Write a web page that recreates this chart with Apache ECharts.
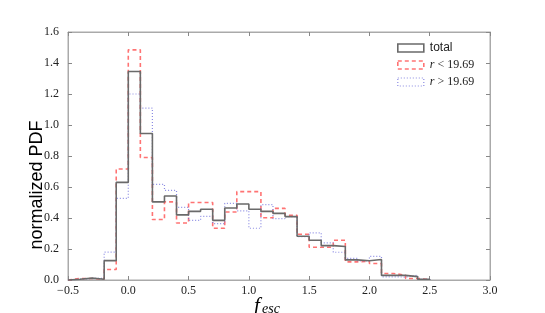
<!DOCTYPE html>
<html><head><meta charset="utf-8">
<script src="https://cdn.jsdelivr.net/npm/echarts@6/dist/echarts.min.js"></script>
<style>html,body{margin:0;padding:0;background:#fff}#c{width:545px;height:313px}</style>
</head><body><div id="c"></div>
<script>
var binStarts = [-0.5,-0.4,-0.3,-0.2,-0.1,0.0,0.1,0.2,0.3,0.4,0.5,0.6,0.7,0.8,0.9,1.0,1.1,1.2,1.3,1.4,1.5,1.6,1.7,1.8,1.9,2.0,2.1,2.2,2.3,2.4];
var binEnd = 2.5;
var total = [0.005,0.012,0.005,0.125,0.63,1.345,0.945,0.504,0.542,0.42,0.443,0.456,0.385,0.465,0.49,0.456,0.443,0.43,0.409,0.282,0.256,0.222,0.216,0.13,0.124,0.132,0.03,0.03,0.022,0.005];
var rLow = [0.01,0.01,0.005,0.068,0.716,1.485,0.79,0.39,0.504,0.368,0.50,0.50,0.334,0.439,0.57,0.57,0.402,0.462,0.417,0.295,0.211,0.211,0.256,0.117,0.12,0.106,0.042,0.031,0.01,0.003];
var rHigh = [0.005,0.01,0.01,0.18,0.527,1.20,1.109,0.617,0.578,0.469,0.385,0.41,0.364,0.495,0.446,0.334,0.486,0.396,0.409,0.28,0.304,0.24,0.179,0.14,0.124,0.153,0.02,0.019,0.031,0.005];
var seriesNames = ['total','r < 19.69','r > 19.69'];
var xTicks = [-0.5,0.0,0.5,1.0,1.5,2.0,2.5,3.0];
var yTicks = [0.0,0.2,0.4,0.6,0.8,1.0,1.2,1.4,1.6];

function stepData(vals){
  var d = [[binStarts[0],0]];
  for (var i=0;i<vals.length;i++) d.push([binStarts[i], vals[i]]);
  d.push([binEnd, 0]);
  return d;
}
var serif = '"Liberation Serif", "DejaVu Serif", serif';
var sans = '"Liberation Sans", Arial, sans-serif';
var cols = ['#6a6a6a','rgba(255,90,90,0.85)','rgba(110,110,220,0.8)'];
function fmt(v){ return v.toFixed(1).replace('-','\u2212'); }

var chart = echarts.init(document.getElementById('c'), null, {renderer:'canvas'});
function axisCommon(){ return {
  axisLine:{show:true,onZero:false,lineStyle:{color:'#aaa',width:1}},
  axisTick:{show:true,inside:true,length:4,lineStyle:{color:'#888'}},
  splitLine:{show:false}
};}
chart.setOption({
  animation:false,
  backgroundColor:'#fff',
  grid:{left:68,right:55,top:32,bottom:33,show:true,borderColor:'#aaa',borderWidth:1},
  xAxis:[
    Object.assign({type:'value',min:xTicks[0],max:xTicks[xTicks.length-1],interval:0.5,position:'bottom',
      axisLabel:{fontFamily:serif,fontSize:12,color:'#222',margin:5,formatter:fmt}},axisCommon()),
    Object.assign({type:'value',min:xTicks[0],max:xTicks[xTicks.length-1],interval:0.5,position:'top',
      axisLabel:{show:false}},axisCommon())
  ],
  yAxis:[
    Object.assign({type:'value',min:yTicks[0],max:yTicks[yTicks.length-1],interval:0.2,position:'left',
      axisLabel:{fontFamily:serif,fontSize:12,color:'#222',margin:9,formatter:fmt}},axisCommon()),
    Object.assign({type:'value',min:yTicks[0],max:yTicks[yTicks.length-1],interval:0.2,position:'right',
      axisLabel:{show:false}},axisCommon())
  ],
  legend:{
    orient:'vertical',left:392,top:37,itemWidth:26,itemHeight:8,itemGap:5,
    data:[
      {name:seriesNames[0],icon:'rect',itemStyle:{color:'#fff',borderColor:cols[0],borderWidth:1.6,borderType:'solid'}},
      {name:seriesNames[1],icon:'rect',itemStyle:{color:'#fff',borderColor:cols[1],borderWidth:1.6,borderType:[4,3]}},
      {name:seriesNames[2],icon:'rect',itemStyle:{color:'#fff',borderColor:cols[2],borderWidth:1.2,borderType:[1,2]}}
    ],
    formatter:function(n){
      if(n==='total') return '{t|total}';
      var parts=n.split(' ');
      return '{i|'+parts[0]+'}{s| '+parts[1]+' '+parts[2]+'}';
    },
    textStyle:{color:'#222',padding:[0,0,0,1],rich:{
      t:{fontFamily:sans,fontSize:12,color:'#222'},
      i:{fontFamily:serif,fontStyle:'italic',fontSize:12,color:'#222'},
      s:{fontFamily:serif,fontSize:12,color:'#222'}
    }}
  },
  graphic:[
    {type:'text',x:37,y:185,rotation:Math.PI/2,style:{text:'normalized PDF',font:'18px '+sans,fill:'#000',align:'center',verticalAlign:'middle'}},
    {type:'text',x:254,y:296,style:{text:'f',font:'italic 21px '+serif,fill:'#000'}},
    {type:'text',x:262,y:302,style:{text:'esc',font:'italic 14px '+serif,fill:'#000'}}
  ],
  series:[
    {name:seriesNames[0],type:'line',step:'end',showSymbol:false,symbol:'none',data:stepData(total),
      lineStyle:{color:cols[0],width:1.6},itemStyle:{color:cols[0]},z:3},
    {name:seriesNames[1],type:'line',step:'end',showSymbol:false,symbol:'none',data:stepData(rLow),
      lineStyle:{color:cols[1],width:1.6,type:[4,3]},itemStyle:{color:cols[1]},z:2},
    {name:seriesNames[2],type:'line',step:'end',showSymbol:false,symbol:'none',data:stepData(rHigh),
      lineStyle:{color:cols[2],width:1.2,type:[1,2]},itemStyle:{color:cols[2]},z:2}
  ]
});
</script></body></html>
